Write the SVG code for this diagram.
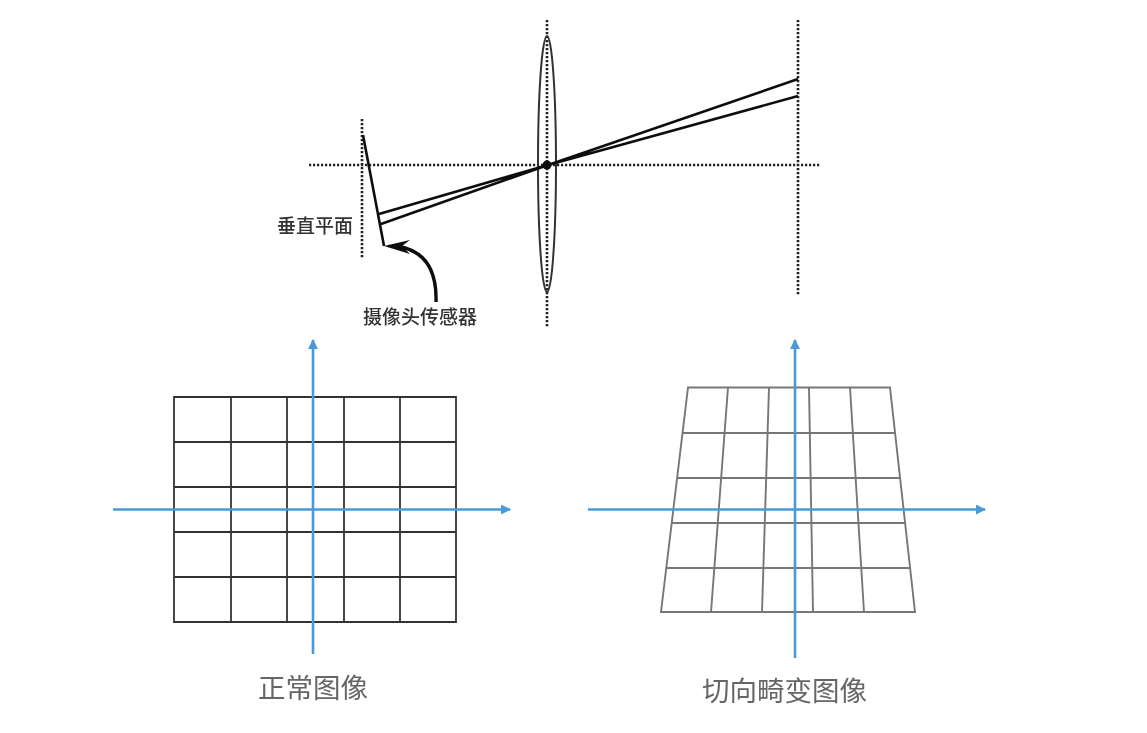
<svg xmlns="http://www.w3.org/2000/svg" width="1147" height="733" viewBox="0 0 1147 733">
<style>
text{font-family:"Noto Sans CJK SC","Noto Sans",sans-serif}
.dot{fill:none;stroke:#222;stroke-width:2.6;stroke-dasharray:2.2 1.8}
.ray{fill:none;stroke:#111;stroke-width:2.6}
.thin{fill:none;stroke:#333;stroke-width:2}
.g1{fill:none;stroke:#333;stroke-width:1.8}
.g2{fill:none;stroke:#777;stroke-width:1.9}
.ax{fill:none;stroke:#4a9ad6;stroke-width:2.6}
.lab{font-size:19px;font-weight:500;fill:#333}
.cap{font-size:27.500px;fill:#666}
.soft{filter:url(#b)}
</style>
<defs>
<filter id="b" x="0" y="0" width="100%" height="100%" filterUnits="userSpaceOnUse"><feGaussianBlur stdDeviation="0.5"/></filter>
<marker id="a" markerUnits="userSpaceOnUse" markerWidth="12" markerHeight="12" refX="9" refY="5" orient="auto"><path d="M0 0L10 5L0 10Z" fill="#4a9ad6"/></marker>
</defs>
<rect width="1147" height="733" fill="#fff"/>
<g class="soft">
<g id="optics">
<path class="dot" d="M309 165H821M362 119V258M547 20V327M798 20V296"/>
<ellipse class="thin" cx="547" cy="164" rx="9" ry="128"/>
<circle cx="547" cy="165" r="4.500" fill="#111"/>
<path class="ray" d="M363 135L384 246M379 214L548 165L798 96M381 224L548 165L798 79"/>
</g>
<g id="sensor-arrow">
<path d="M436 302C437 270 425 250 396 246" fill="none" stroke="#111" stroke-width="3.4"/>
<path d="M384 246L410 240L402 246L410 254Z" fill="#111"/>
</g>
<g id="label-plane"><text class="lab" x="277" y="233">垂直平面</text></g>
<g id="label-sensor"><text class="lab" x="363" y="324">摄像头传感器</text></g>
<g id="grid-normal">
<path class="g1" d="M174 397H456V622H174ZM231 397V622M287 397V622M344 397V622M400 397V622M174 442H456M174 487H456M174 532H456M174 577H456"/>
</g>
<g id="grid-distorted">
<path class="g2" d="M688 387.500H890L915 612H661ZM728 387.500L711 612M769 387.500L762 612M809 387.500L813 612M850 387.500L864 612M683 433H895M678 478H900M672 523H905M667 568H910"/>
</g>
<g id="connectors">
<path class="ax" marker-end="url(#a)" d="M113 509.500H510"/>
<path class="ax" marker-end="url(#a)" d="M313 654V340"/>
<path class="ax" marker-end="url(#a)" d="M588 509.500H985"/>
<path class="ax" marker-end="url(#a)" d="M795 658V340"/>
</g>
<g id="caption-normal"><text class="cap" x="258" y="698">正常图像</text></g>
<g id="caption-distorted"><text class="cap" x="702" y="701">切向畸变图像</text></g>
</g>
</svg>
